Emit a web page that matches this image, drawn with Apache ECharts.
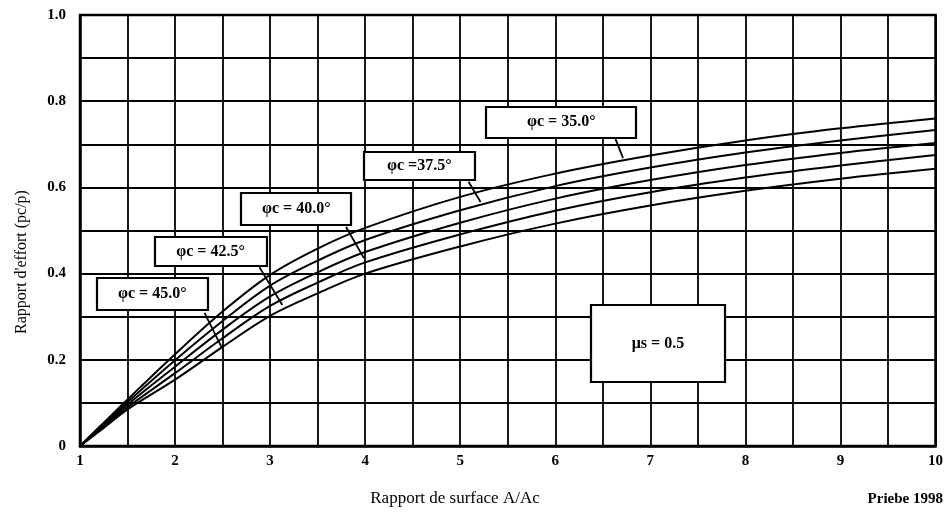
<!DOCTYPE html>
<html><head><meta charset="utf-8">
<script src="https://cdn.jsdelivr.net/npm/echarts@6/dist/echarts.min.js"></script>
<style>html,body{margin:0;padding:0;background:#fff}#c{width:946px;height:512px}</style>
</head><body><div id="c"></div><script>
// ---- data ----
const xValues = [1, 1.25, 1.5, 2, 2.5, 3, 3.5, 4, 5, 6, 7, 8, 9, 10];
const phi35  = [0, 0.054, 0.108, 0.213, 0.312, 0.397, 0.458, 0.506, 0.578, 0.632, 0.674, 0.709, 0.737, 0.760];
const phi375 = [0, 0.051, 0.102, 0.199, 0.290, 0.372, 0.430, 0.478, 0.547, 0.603, 0.646, 0.681, 0.709, 0.733];
const phi40  = [0, 0.048, 0.096, 0.184, 0.270, 0.347, 0.403, 0.450, 0.518, 0.574, 0.617, 0.652, 0.680, 0.703];
const phi425 = [0, 0.045, 0.090, 0.169, 0.250, 0.325, 0.379, 0.426, 0.491, 0.546, 0.589, 0.623, 0.651, 0.675];
const phi45  = [0, 0.042, 0.085, 0.154, 0.230, 0.302, 0.354, 0.400, 0.463, 0.516, 0.558, 0.592, 0.620, 0.643];
const seriesNames = ['φc = 35.0°', 'φc = 37.5°', 'φc = 40.0°', 'φc = 42.5°', 'φc = 45.0°'];
const seriesValues = [phi35, phi375, phi40, phi425, phi45];
const xTickLabels = ['1','2','3','4','5','6','7','8','9','10'];
const yTickLabels = ['0','0.2','0.4','0.6','0.8','1.0'];
const labelTexts = ['φc = 35.0°', 'φc =37.5°', 'φc = 40.0°', 'φc = 42.5°', 'φc = 45.0°', 'μs = 0.5'];
// annotation anchors (data coordinates): box centre, leader start, leader end
const boxCentres = [[6.063, 0.751], [4.569, 0.650], [3.275, 0.550], [2.373, 0.451], [1.760, 0.353], [7.080, 0.238]];
const leaderStarts = [[6.629, 0.715], [5.088, 0.613], [3.799, 0.508], [2.887, 0.415], [2.310, 0.309]];
const leaderEnds   = [[6.713, 0.668], [5.214, 0.566], [3.987, 0.436], [3.128, 0.327], [2.488, 0.230]];
// ---- styles ----
const boxSizes = [[150, 31], [111, 28], [110, 32], [112, 29], [111, 32], [134, 77]];
const FONT = '"Liberation Serif", "DejaVu Serif", serif';

const chart = echarts.init(document.getElementById('c'));
const series = seriesValues.map((vals, i) => ({
  name: seriesNames[i],
  type: 'line',
  data: xValues.map((x, j) => [x, vals[j]]),
  smooth: 0.35,
  symbol: 'none',
  lineStyle: { color: '#000', width: 2 },
  z: 3
}));

chart.setOption({
  animation: false,
  backgroundColor: '#fff',
  grid: { left: 80, right: 7, top: 15, bottom: 66, show: true, borderColor: '#000', borderWidth: 2.5, backgroundColor: 'transparent' },
  xAxis: {
    type: 'value', min: 1, max: 10, interval: 0.5,
    axisLine: { show: true, lineStyle: { color: '#000', width: 2.5 } },
    axisTick: { show: false },
    splitLine: { show: true, lineStyle: { color: '#000', width: 1.8 } },
    axisLabel: {
      color: '#000', fontFamily: FONT, fontWeight: 'bold', fontSize: 15, margin: 8,
      formatter: v => { const k = xTickLabels.indexOf(String(v)); return k >= 0 ? xTickLabels[k] : ''; }
    }
  },
  yAxis: {
    type: 'value', min: 0, max: 1, interval: 0.1,
    axisLine: { show: true, lineStyle: { color: '#000', width: 2.5 } },
    axisTick: { show: false },
    splitLine: { show: true, lineStyle: { color: '#000', width: 1.8 } },
    axisLabel: {
      color: '#000', fontFamily: FONT, fontWeight: 'bold', fontSize: 15, margin: 14,
      formatter: v => {
        const r = Math.round(v * 10);
        if (r % 2 !== 0) return '';
        return yTickLabels[r / 2];
      }
    }
  },
  series: series
});

function px(p) { return chart.convertToPixel({ gridIndex: 0 }, p); }
const graphics = [];
leaderStarts.forEach((s, i) => {
  const a = px(s), b = px(leaderEnds[i]);
  graphics.push({ type: 'line', z: 50, shape: { x1: a[0], y1: a[1], x2: b[0], y2: b[1] }, style: { stroke: '#000', lineWidth: 1.8 } });
});
boxCentres.forEach((c, i) => {
  const p = px(c), w = boxSizes[i][0], h = boxSizes[i][1];
  graphics.push({ type: 'rect', z: 60, shape: { x: Math.round(p[0] - w / 2), y: Math.round(p[1] - h / 2), width: w, height: h },
    style: { fill: '#fff', stroke: '#000', lineWidth: 2.2 } });
  graphics.push({ type: 'text', z: 61, x: p[0], y: p[1],
    style: { text: labelTexts[i], fill: '#000', font: 'bold 16px ' + FONT, textAlign: 'center', textVerticalAlign: 'middle' } });
});
graphics.push({ type: 'text', z: 61, x: 22, y: 262, rotation: Math.PI / 2,
  style: { text: "Rapport d'effort (pc/p)", fill: '#000', font: '16px ' + FONT, textAlign: 'center', textVerticalAlign: 'middle' } });
graphics.push({ type: 'text', z: 61, x: 455, y: 499,
  style: { text: 'Rapport de surface A/Ac', fill: '#000', font: '17px ' + FONT, textAlign: 'center', textVerticalAlign: 'middle' } });
graphics.push({ type: 'text', z: 61, x: 943, y: 499,
  style: { text: 'Priebe 1998', fill: '#000', font: 'bold 15px ' + FONT, textAlign: 'right', textVerticalAlign: 'middle' } });
chart.setOption({ graphic: graphics });
</script></body></html>
